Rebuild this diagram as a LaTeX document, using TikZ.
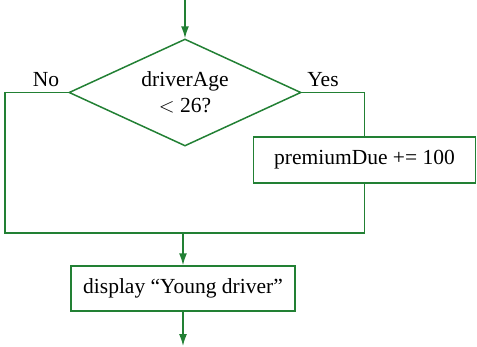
\documentclass[tikz,border=0pt]{standalone}
\usepackage{fontspec}
\setmainfont{Liberation Serif}
\usepackage{tikz}
\usetikzlibrary{shapes.geometric,arrows.meta}
\definecolor{flowgreen}{RGB}{34,128,52}

\tikzset{
  flowline/.style={flowgreen, line width=1.5pt},
  flowarrow/.style={flowline, -{Latex[length=12pt,width=8pt]}},
  stepbox/.style={draw=flowgreen, line width=1.5pt, rectangle, inner sep=0pt, font=\fontsize{21.5}{26}\selectfont},
  testbox/.style={draw=flowgreen, line width=1.5pt, diamond, aspect=2.17, inner sep=1pt, align=center, font=\fontsize{21.5}{26}\selectfont},
  branchlabel/.style={font=\fontsize{21.5}{26}\selectfont, inner sep=0pt}
}

\begin{document}
\begin{tikzpicture}[x=1pt, y=-1pt]
  \useasboundingbox (0,0) rectangle (477,346);
  \node[testbox, minimum width=232pt, minimum height=107pt] (agetest) at (185,92.5) {driverAge\\ $<$ 26?};
  \node[stepbox, minimum width=222pt, minimum height=46pt] (premium) at (364.5,160) {premiumDue += 100};
  \node[stepbox, minimum width=224pt, minimum height=45pt] (display) at (183,288.5) {display “Young driver”};
  \coordinate (start) at (185,0);
  \coordinate (stop) at (183,346);
  \coordinate (leftturn) at (5,233);
  \coordinate (join) at (183,233);
  \node[branchlabel] (nolabel) at (46,80) {No};
  \node[branchlabel] (yeslabel) at (323,80) {Yes};
  \draw[flowarrow] (start) -- (agetest.north);
  \draw[flowline] (agetest.east) -| (premium.north);
  \draw[flowline] (agetest.west) -| (leftturn) -| (premium.south);
  \draw[flowarrow] (join) -- (display.north);
  \draw[flowarrow] (display.south) -- (stop);
\end{tikzpicture}
\end{document}
